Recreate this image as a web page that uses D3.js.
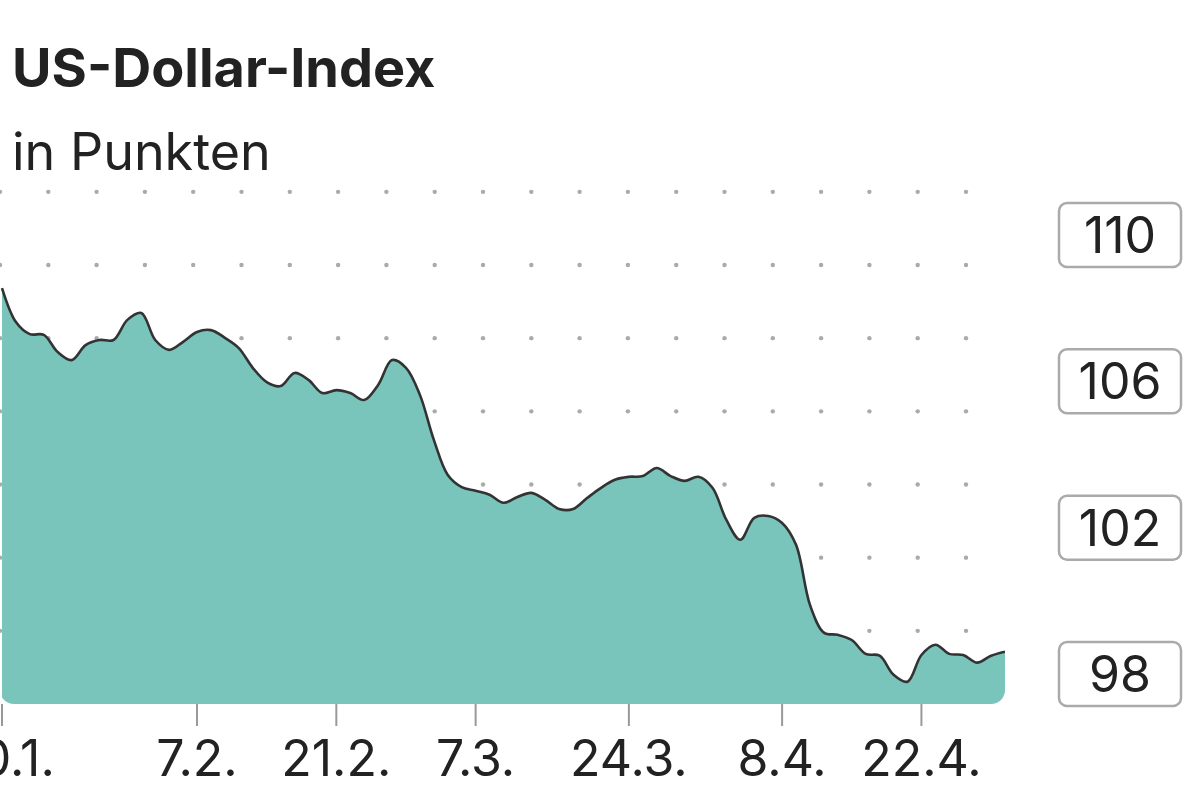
<!DOCTYPE html>
<html>
<head>
<meta charset="utf-8">
<script src="https://cdn.jsdelivr.net/npm/d3@7"></script>
<style>
  body { margin: 0; background: #fff; }
  svg { font-family: Inter, "Noto Sans", sans-serif; }
</style>
</head>
<body>
<svg id="chart" width="1200" height="811"></svg>
<script>
// Index-Werte (Handelstage 20.1. bis 30.4.)
const values = [
  109.37, 108.44, 108.11, 108.09, 107.62, 107.40, 107.81, 107.95, 107.95, 108.50,
  108.69, 107.95, 107.68, 107.90, 108.17, 108.22, 108.01, 107.73, 107.19, 106.80,
  106.69, 107.05, 106.86, 106.50, 106.58, 106.50, 106.31, 106.72, 107.40, 107.19,
  106.45, 105.22, 104.26, 103.93, 103.83, 103.72, 103.50, 103.66, 103.77, 103.58,
  103.33, 103.33, 103.63, 103.91, 104.13, 104.21, 104.23, 104.45, 104.23, 104.10,
  104.21, 103.91, 103.03, 102.49, 103.09, 103.14, 102.95, 102.35, 100.71, 99.95,
  99.89, 99.75, 99.37, 99.32, 98.80, 98.61, 99.34, 99.62, 99.37, 99.34,
  99.13, 99.32, 99.43
];
const tickIndex = [0, 14, 24, 34, 45, 56, 66];
const tickLabels = ["20.1.", "7.2.", "21.2.", "7.3.", "24.3.", "8.4.", "22.4."];
const labelValues = [110, 106, 102, 98];
const gridValues = [112, 110, 108, 106, 104, 102, 100];

const svg = d3.select("#chart");
const x = d3.scaleLinear().domain([0, values.length - 1]).range([2, 1005]);
const y = d3.scaleLinear().domain([98, 110]).range([704, 265]);

// dotted grid
const dotX = d3.range(0, 21).map(i => i * 48.3);
gridValues.forEach(v => {
  svg.append("g").selectAll("circle").data(dotX).join("circle")
    .attr("cx", d => d).attr("cy", y(v)).attr("r", 2.2).attr("fill", "#aaa");
});

// rounded bottom clip
svg.append("clipPath").attr("id", "clip")
  .append("rect").attr("x", 0).attr("y", 0)
  .attr("width", 1005).attr("height", y(98)).attr("rx", 14);

const curve = d3.curveCatmullRom.alpha(0.5);
const area = d3.area().x((d, i) => x(i)).y0(y(98)).y1(d => y(d)).curve(curve);
const line = d3.line().x((d, i) => x(i)).y(d => y(d)).curve(curve);

const g = svg.append("g").attr("clip-path", "url(#clip)");
g.append("path").datum(values).attr("d", area).attr("fill", "#79c4bb");
g.append("path").datum(values).attr("d", line)
  .attr("fill", "none").attr("stroke", "#333").attr("stroke-width", 2.6);

// x ticks
const xt = svg.append("g").selectAll("g").data(tickIndex).join("g")
  .attr("transform", d => `translate(${x(d)},0)`);
xt.append("line").attr("y1", y(98)).attr("y2", 726)
  .attr("stroke", "#999").attr("stroke-width", 2);
xt.append("text").attr("y", 776).attr("text-anchor", "middle")
  .attr("font-size", 50).attr("fill", "#222")
  .text((d, i) => tickLabels[i]);

// y labels in boxes
const yl = svg.append("g").selectAll("g").data(labelValues).join("g")
  .attr("transform", d => `translate(1120,${y(d) + 2})`);
yl.append("rect").attr("x", -61).attr("y", -64).attr("width", 122).attr("height", 64)
  .attr("rx", 8).attr("fill", "#fff").attr("stroke", "#aaa").attr("stroke-width", 2.5);
yl.append("text").attr("y", -14).attr("text-anchor", "middle")
  .attr("font-size", 50).attr("fill", "#222").text(d => d);

// titles
svg.append("text").attr("x", 12).attr("y", 87).attr("font-size", 54)
  .attr("font-weight", 700).attr("fill", "#222").text("US-Dollar-Index");
svg.append("text").attr("x", 12).attr("y", 170).attr("font-size", 52)
  .attr("fill", "#222").text("in Punkten");
</script>
</body>
</html>
